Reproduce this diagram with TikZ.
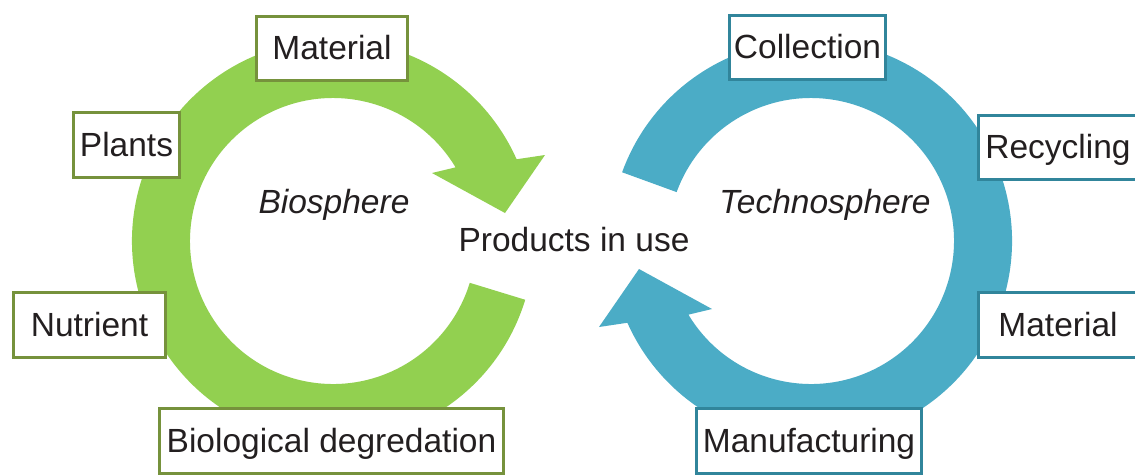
\documentclass[tikz,border=0pt]{standalone}
\usepackage{fontspec}
\setmainfont{Liberation Sans}
\definecolor{bioGreen}{HTML}{92D050}
\definecolor{bioEdge}{HTML}{76923C}
\definecolor{techBlue}{HTML}{4BACC6}
\definecolor{techEdge}{HTML}{31859B}
\definecolor{txt}{HTML}{231F20}
\begin{document}
\begin{tikzpicture}[x=1pt,y=-1pt,
  lbl/.style={font=\fontsize{33.5}{40}\selectfont, text=txt, inner sep=0pt, text height=23pt, text depth=1pt},
  box/.style={lbl, draw, line width=3.2pt, fill=white, minimum height=64.5pt},
  biobox/.style={box, draw=bioEdge},
  techbox/.style={box, draw=techEdge},
  sphere/.style={lbl, font=\fontsize{33.5}{40}\selectfont\itshape}]
\useasboundingbox (0,0) rectangle (1135,475);
\clip (0,0) rectangle (1135,475);
\fill[white] (0,0) rectangle (1135,475);
% Biosphere ring arrow
\begin{scope}[shift={(333,241)}]
\fill[bioGreen] (17:201) arc[start angle=17,end angle=336,radius=201]
  -- (212,-86) -- (172,-28) -- (99,-68) -- (329:143)
  arc[start angle=329,end angle=17,radius=143] -- cycle;
\end{scope}
% Technosphere ring arrow
\begin{scope}[shift={(811,241)},rotate=180]
\fill[techBlue] (20:201) arc[start angle=20,end angle=336,radius=201]
  -- (212,-86) -- (172,-28) -- (99,-68) -- (329:143)
  arc[start angle=329,end angle=20,radius=143] -- cycle;
\end{scope}
% labels
\node[sphere] (bio) at (334,202) {Biosphere};
\node[sphere] (tech) at (825,202) {Technosphere};
\node[lbl] (prod) at (574,240) {Products in use};
% biosphere boxes
\node[biobox, minimum width=150.5pt] (matL) at (332,48.5) {Material};
\node[biobox, minimum width=105.5pt] (plants) at (126.5,145) {Plants};
\node[biobox, minimum width=151.5pt] (nutr) at (89.5,325) {Nutrient};
\node[biobox, minimum width=343.5pt] (biodeg) at (331.5,441) {Biological degredation};
% technosphere boxes
\node[techbox, minimum width=155.5pt] (coll) at (807.5,47.5) {Collection};
\node[techbox, minimum width=158.5pt] (recy) at (1058,147.5) {Recycling};
\node[techbox, minimum width=158.5pt] (matR) at (1058,325) {Material};
\node[techbox, minimum width=224.5pt] (manu) at (809,441) {Manufacturing};
\end{tikzpicture}
\end{document}
